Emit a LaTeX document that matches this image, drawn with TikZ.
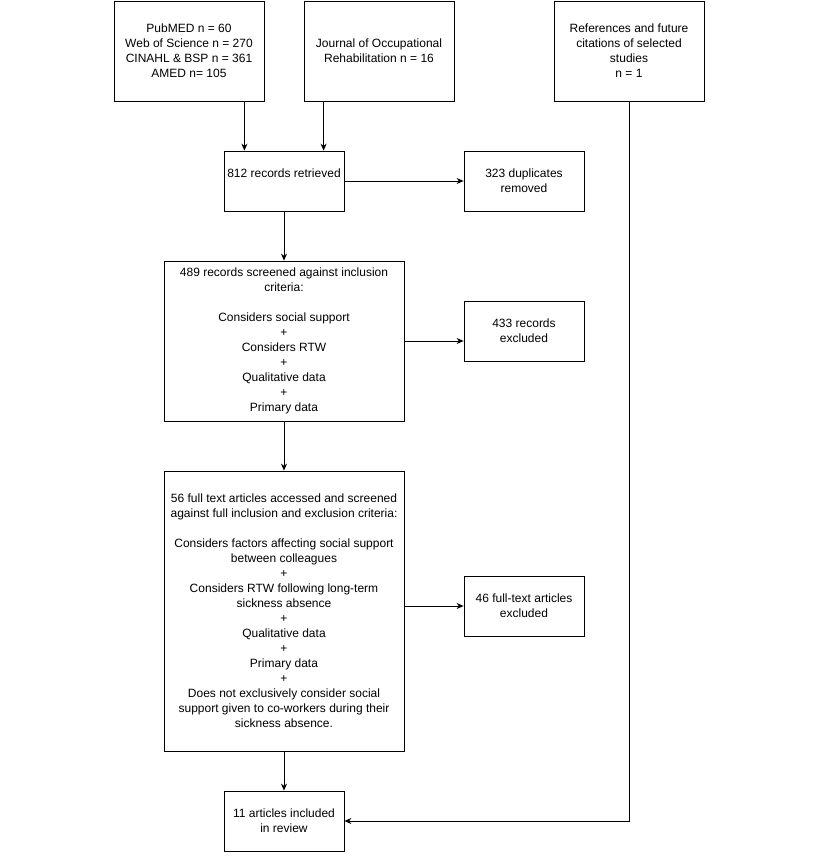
\documentclass[tikz,border=0pt]{standalone}
\usepackage{fontspec}
\setmainfont{Liberation Sans}
\usetikzlibrary{arrows.meta}
\begin{document}
\begin{tikzpicture}[
                x = 1pt, y = -1pt,
                font = \fontsize{12}{15}\selectfont,
                box/.style = {draw, thick, align=center, inner sep = 0mm},
                src/.style = {box, minimum width = 150pt, minimum height = 100pt},
                small/.style = {box, minimum width = 120pt, minimum height = 60pt},
                big/.style = {box, minimum width = 240pt},
                arr/.style = {draw, thick, -{Stealth[length=7pt, width=6pt]}},
            ]
            \useasboundingbox (0,0) rectangle (820,856);

            \node (db) [src] at (189,51){PubMED n = 60\\Web of Science n = 270\\CINAHL \& BSP n = 361\\AMED n= 105};
            \node (jor) [src] at (379,51){Journal of Occupational\\Rehabilitation n = 16};
            \node (refs) [src] at (629,51){References and future\\citations of selected\\studies\\n = 1};

            \node (ret) [small] at (284,181){812 records retrieved\\\mbox{}};
            \node (dup) [small] at (524,181){323 duplicates\\removed};

            \node (scr) [big, minimum height = 160pt] at (284,341){489 records screened against inclusion\\criteria:\\[15pt]Considers social support\\+\\Considers RTW\\+\\Qualitative data\\+\\Primary data};
            \node (exc) [small] at (524,331){433 records\\excluded};

            \node (full) [big, minimum height = 280pt] at (284,611){56 full text articles accessed and screened\\against full inclusion and exclusion criteria:\\[15pt]Considers factors affecting social support\\between colleagues\\+\\Considers RTW following long-term\\sickness absence\\+\\Qualitative data\\+\\Primary data\\+\\Does not exclusively consider social\\support given to co-workers during their\\sickness absence.};
            \node (fexc) [small] at (524,606){46 full-text articles\\excluded};

            \node (inc) [small] at (284,821){11 articles included\\in review};

            \path[arr] ([xshift=-20pt]db.south east) -- ([xshift=-20pt]db.south east |- ret.north);
            \path[arr] ([xshift=20pt]jor.south west) -- ([xshift=20pt]jor.south west |- ret.north);
            \path[arr] (ret) -- (dup);
            \path[arr] (ret) -- (scr);
            \path[arr] (scr.east) -- (scr.east -| exc.west);
            \path[arr] (scr) -- (full);
            \path[arr] (fexc.west -| full.east) -- (fexc.west);
            \path[arr] (full) -- (inc);

            \path[arr] (refs.south) -- (refs.south |- inc.east) -- (inc.east);
        \end{tikzpicture}
\end{document}
